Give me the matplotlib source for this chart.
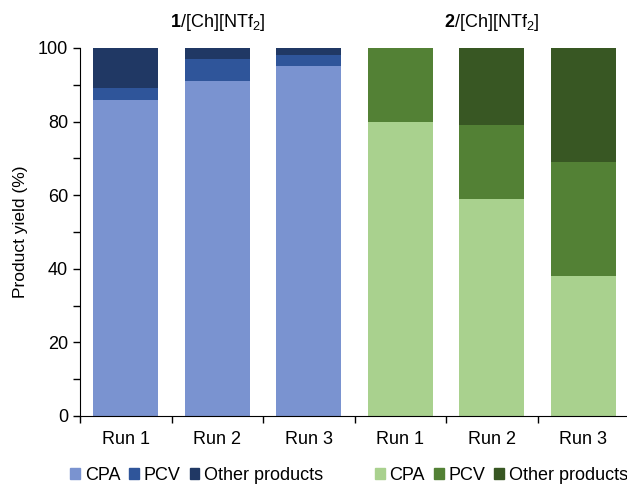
import numpy as np
import matplotlib.pyplot as plt
from matplotlib.patches import Patch

plt.rcParams['font.family'] = ['Liberation Sans', 'DejaVu Sans']
plt.rcParams['mathtext.fontset'] = 'custom'
plt.rcParams['mathtext.rm'] = 'Liberation Sans'
plt.rcParams['mathtext.bf'] = 'Liberation Sans:bold'

runs = ["Run 1", "Run 2", "Run 3", "Run 1", "Run 2", "Run 3"]
group_titles = [r"$\mathbf{1}$/[Ch][NTf$_2$]", r"$\mathbf{2}$/[Ch][NTf$_2$]"]
series = ["CPA", "PCV", "Other products"]

cpa = [86, 91, 95, 80, 59, 38]
pcv = [3, 6, 3, 20, 20, 31]
other = [11, 3, 2, 0, 21, 31]

blues = ["#7A93D0", "#2F559A", "#203864"]
greens = ["#A9D18E", "#538135", "#385723"]

fig = plt.figure(figsize=(6.27, 4.84), dpi=100)
ax = fig.add_axes([80/627, 68/484, 549/627, 368/484])

x = np.arange(len(runs))
cols = [blues if i < 3 else greens for i in range(len(runs))]
bottom = np.zeros(len(runs))
for k, vals in enumerate([cpa, pcv, other]):
    ax.bar(x, vals, width=0.71, bottom=bottom,
           color=[c[k] for c in cols], linewidth=0)
    bottom += np.array(vals)

ax.set_xlim(-0.5, len(runs) - 0.5)
ax.set_ylim(0, 100)
ax.set_yticks(range(0, 101, 20))
ax.set_yticks(range(10, 100, 20), minor=True)
ax.tick_params(axis='y', which='both', direction='out', length=5,
               labelsize=13, width=1)
ax.set_xticks(x)
ax.set_xticklabels(runs, fontsize=13)
ax.tick_params(axis='x', which='major', length=0, pad=11)
ax.set_xticks(np.arange(-0.5, len(runs)), minor=True)
ax.tick_params(axis='x', which='minor', length=5, direction='out', width=1)
for s in ['top', 'right']:
    ax.spines[s].set_visible(False)
ax.spines['left'].set_color('black')
ax.spines['bottom'].set_color('black')
ax.set_ylabel("Product yield (%)", fontsize=12.5, labelpad=7)

ax.text(1, 107, group_titles[0], ha='center', va='center', fontsize=13)
ax.text(4, 107, group_titles[1], ha='center', va='center', fontsize=13)

for colors, xpos in [(blues, 0.112), (greens, 0.598)]:
    handles = [Patch(color=c, label=s) for c, s in zip(colors, series)]
    fig.legend(handles=handles, ncol=3, loc='center left',
               bbox_to_anchor=(xpos, 0.018), frameon=False, fontsize=13,
               handlelength=0.55, handleheight=0.6, handletextpad=0.25,
               columnspacing=0.5, borderaxespad=0, borderpad=0)

fig.savefig("out.png", dpi=100)
